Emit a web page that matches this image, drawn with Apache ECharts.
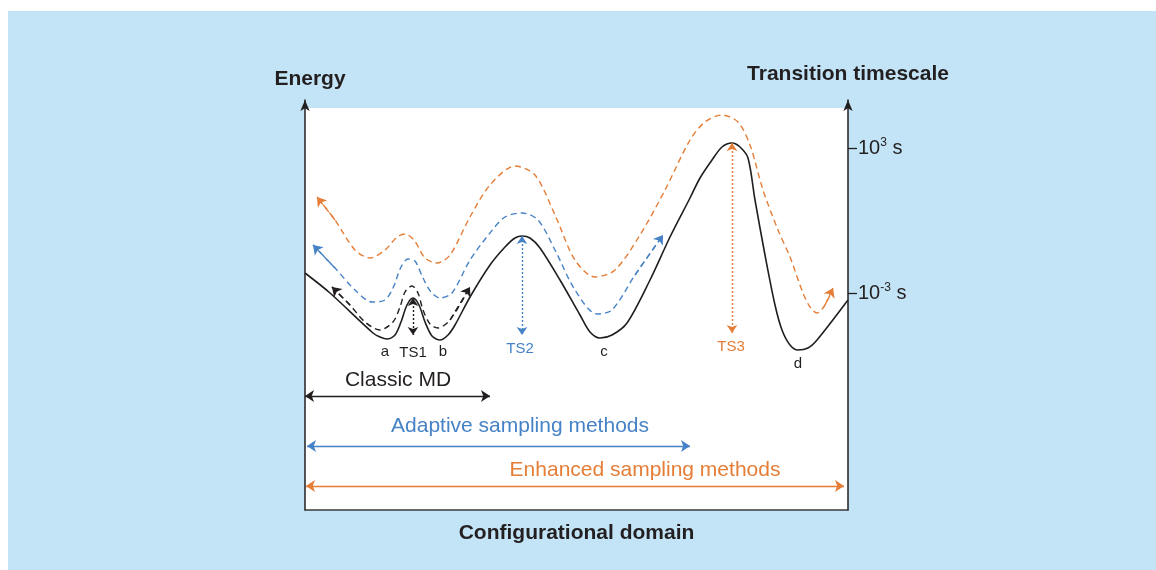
<!DOCTYPE html>
<html>
<head>
<meta charset="utf-8">
<script src="https://cdn.jsdelivr.net/npm/echarts@6/dist/echarts.min.js"></script>
<style>
html,body{margin:0;padding:0;background:#ffffff;}
#bg{position:absolute;left:8px;top:11px;width:1148px;height:559px;background:#c2e4f6;}
#chart{position:absolute;left:0;top:0;width:1156px;height:570px;}
</style>
</head>
<body>
<div id="bg"></div>
<div id="chart"></div>
<script>
// Diagram units: x = configurational coordinate (0..543), y = energy (0..410)
const blackCurve = [[0,237],[25,217],[68,177],[75,173],[82,171],[90,175],[96,188],[102,205],[108,212],[114,205],[120,188],[127,174],[135,170],[143,175],[150,185],[165,213],[185,245],[200,263],[210,272],[217,274],[225,272],[235,262],[255,230],[275,195],[285,178],[295,172],[307,175],[322,187],[345,230],[365,273],[385,312],[395,332],[407,350],[417,363],[427,367],[435,363],[443,352],[450,310],[460,255],[470,205],[477,180],[485,165],[493,160],[503,162],[512,170],[543,210]];
const classicPath = [[27,223],[45,205],[60,188],[75,180],[88,188],[95,203],[100,218],[107,224],[113,217],[118,200],[125,186],[133,182],[145,190],[165,223]];
const adaptivePath = [[8,265],[30,242],[50,220],[67,208],[80,210],[88,222],[96,243],[103,251],[110,249],[118,232],[126,218],[135,212],[147,217],[165,250],[185,277],[200,293],[217,297],[233,290],[250,260],[270,220],[292,196],[307,200],[330,235],[358,275]];
const enhancedPath = [[12,313],[30,290],[50,260],[65,252],[80,260],[92,273],[100,276],[109,270],[120,252],[132,247],[145,255],[165,293],[185,325],[210,344],[230,335],[250,295],[270,250],[290,233],[310,240],[335,275],[360,320],[385,370],[400,388],[417,395],[433,388],[445,365],[458,320],[473,280],[485,253],[498,217],[505,203],[512,197],[520,205],[528,222]];

// transition-state barrier arrows: [x, yTop, yBottom]
const tsBarriers = [[108,212,175],[217,274,175],[427,367,177]];
const tsNames = ['TS1','TS2','TS3'];

// method range arrows: [xStart, xEnd, y]
const methodRanges = [[0,185,114],[2,385,64],[1,539,24]];
const methodNames = ['Classic MD','Adaptive sampling methods','Enhanced sampling methods'];
const methodLabelPos = [[93,130],[215,84],[340,40]];

// state labels
const stateNames = ['a','b','c','d'];
const statePos = [[80,158],[138,158],[299,158],[493,146]];
const tsLabelPos = [[108,157],[215,161],[426,163]];

// right axis ticks
const tickValues = [217,362];
const tickLabels = ['10{sup|-3} s','10{sup|3} s'];

const BLACK = '#231f20', BLUE = '#4682c6', ORANGE = '#e57d36';
const colors = [BLACK, BLUE, ORANGE];
const FONT = "'Liberation Sans', Arial, sans-serif";

function endArrow(path){ const n = path.length; return [path[n-2], path[n-1]]; }
function startArrow(path){ return [path[1], path[0]]; }

const chart = echarts.init(document.getElementById('chart'), null, {renderer:'canvas'});

const curveArrows = [
  {coords:startArrow(classicPath), c:BLACK},
  {coords:endArrow(classicPath), c:BLACK},
  {coords:startArrow(adaptivePath), c:BLUE},
  {coords:endArrow(adaptivePath), c:BLUE},
  {coords:startArrow(enhancedPath), c:ORANGE},
  {coords:endArrow(enhancedPath), c:ORANGE}
];

const labelData = [];
stateNames.forEach((n,i)=>labelData.push({name:n, value:statePos[i], label:{color:BLACK, fontSize:15}}));
tsNames.forEach((n,i)=>labelData.push({name:n, value:tsLabelPos[i], label:{color:colors[i], fontSize:15}}));
methodNames.forEach((n,i)=>labelData.push({name:n, value:methodLabelPos[i], label:{color:colors[i], fontSize:21}}));

const axisLineStyle = {color:'#231f20', width:1.5};

const option = {
  animation:false,
  textStyle:{fontFamily:FONT},
  grid:{left:305, right:308, top:100, bottom:60},
  xAxis:{
    type:'value', min:0, max:543, z:10,
    axisLine:{show:true, onZero:false, lineStyle:{color:'#3a3a3a', width:1.5}},
    axisTick:{show:false}, axisLabel:{show:false}, splitLine:{show:false},
    name:'Configurational domain', nameLocation:'middle', nameGap:13,
    nameTextStyle:{fontFamily:FONT, fontWeight:'bold', fontSize:21, color:BLACK}
  },
  yAxis:[{
    type:'value', min:0, max:410, position:'left', z:10,
    axisLine:{show:true, onZero:false, symbol:['none','arrow'], symbolSize:[7,11], lineStyle:axisLineStyle},
    axisTick:{show:false}, axisLabel:{show:false}, splitLine:{show:false},
    name:'Energy', nameLocation:'end', nameGap:10,
    nameTextStyle:{fontFamily:FONT, fontWeight:'bold', fontSize:21, color:BLACK, padding:[0,0,0,10]}
  },{
    type:'value', min:0, max:410, position:'right', z:10,
    axisLine:{show:true, onZero:false, symbol:['none','arrow'], symbolSize:[7,11], lineStyle:axisLineStyle},
    axisTick:{show:true, inside:false, length:9, customValues:tickValues, lineStyle:{color:BLACK, width:1.3}},
    axisLabel:{show:true, margin:10, customValues:tickValues,
      formatter:function(v){ return tickLabels[tickValues.indexOf(v)]; },
      fontFamily:FONT, fontSize:20, color:BLACK,
      rich:{sup:{fontSize:12, verticalAlign:'top', padding:[0,0,10,0], fontFamily:FONT, color:BLACK}}
    },
    splitLine:{show:false},
    name:'Transition timescale', nameLocation:'end', nameGap:15,
    nameTextStyle:{fontFamily:FONT, fontWeight:'bold', fontSize:21, color:BLACK}
  }],
  series:[
    {
      type:'line', data:blackCurve, smooth:0.3, showSymbol:false, z:4,
      lineStyle:{color:'#1f1f1f', width:1.6},
      markArea:{silent:true, itemStyle:{color:'#ffffff', opacity:1}, data:[[{coord:[0,0]},{coord:[543,402]}]], z:1}
    },
    {type:'line', data:classicPath, smooth:0.3, showSymbol:false, z:3, lineStyle:{color:BLACK, width:1.4, type:[6,4]}},
    {type:'line', data:adaptivePath, smooth:0.3, showSymbol:false, z:3, lineStyle:{color:BLUE, width:1.4, type:[6,4]}},
    {type:'line', data:enhancedPath, smooth:0.3, showSymbol:false, z:3, lineStyle:{color:ORANGE, width:1.4, type:[6,4]}},
    {
      type:'lines', coordinateSystem:'cartesian2d', z:5,
      symbol:['none','arrow'], symbolSize:9,
      data:curveArrows.map(a=>({coords:a.coords, lineStyle:{color:a.c, width:1.4, type:[6,4], opacity:1}}))
    },
    {
      type:'lines', coordinateSystem:'cartesian2d', z:5,
      symbol:['arrow','arrow'], symbolSize:8,
      data:tsBarriers.map((t,i)=>({coords:[[t[0],t[1]],[t[0],t[2]]], lineStyle:{color:colors[i], width:1.4, type:[2,2], opacity:1}}))
    },
    {
      type:'lines', coordinateSystem:'cartesian2d', z:5,
      symbol:['arrow','arrow'], symbolSize:9,
      data:methodRanges.map((r,i)=>({coords:[[r[0],r[2]],[r[1],r[2]]], lineStyle:{color:colors[i], width:1.4, opacity:1}}))
    },
    {
      type:'scatter', symbolSize:0, z:6, silent:true,
      itemStyle:{opacity:1},
      label:{show:true, position:'inside', formatter:'{b}', fontFamily:FONT, opacity:1},
      data:labelData
    }
  ]
};
chart.setOption(option);
</script>
</body>
</html>
